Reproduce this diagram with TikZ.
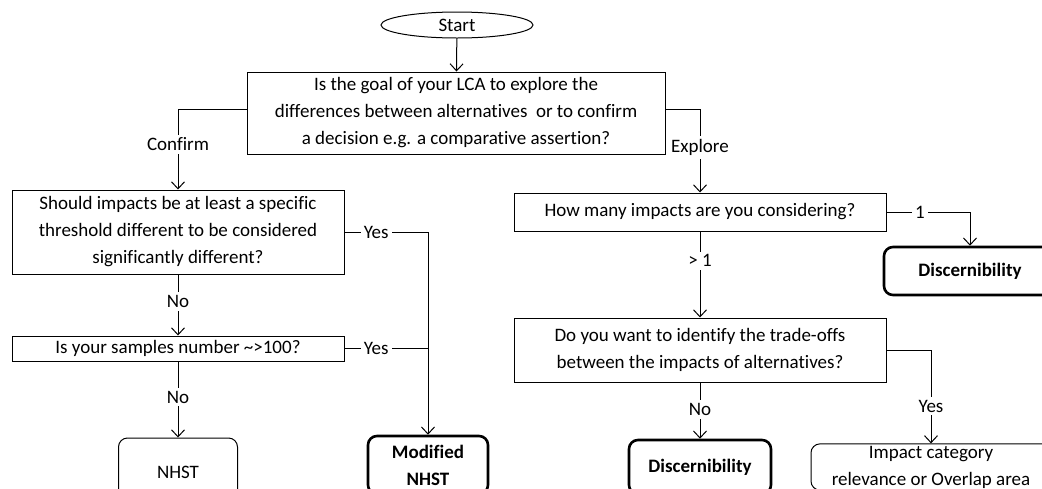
\documentclass[tikz,border=0pt]{standalone}
\usepackage{fontspec}
\setmainfont{Carlito}[Ligatures=NoCommon]
\usetikzlibrary{arrows.meta,shapes.geometric}
\tikzset{>={Straight Barb[length=7pt,width=13pt]}}
\newcommand\chartfont{\fontsize{19}{27}\selectfont}
\tikzset{
  qbox/.style={draw, line width=1pt, rectangle, align=center, inner sep=2pt},
  resbox/.style={draw, line width=1pt, rounded corners=9pt, align=center, inner sep=2pt},
  resboldbox/.style={draw, line width=2.6pt, rounded corners=9pt, align=center, inner sep=2pt, font=\chartfont\bfseries},
  lbl/.style={fill=white, inner sep=3pt},
}

\begin{document}
\begin{tikzpicture}[x=1pt, y=-1pt, line width=1pt, font=\chartfont]
  \useasboundingbox (0,0) rectangle (1042,488);
  \clip (0,0) rectangle (1042,488);

  % start + goal question
  \node[draw, ellipse, minimum width=152pt, minimum height=26pt, inner sep=0pt] (start) at (457,25) {Start};
  \node[qbox, minimum width=418pt, minimum height=82pt] (goal) at (456,113)
    {Is the goal of your LCA to explore the\\differences between alternatives\ \ or to confirm\\a decision e.g. a comparative assertion?};

  % confirm branch
  \node[qbox, minimum width=332pt, minimum height=84pt] (thresh) at (178,232)
    {Should impacts be at least a specific\\threshold different to be considered\\significantly different?};
  \node[qbox, minimum width=332pt, minimum height=25pt] (samples) at (178,348.5)
    {Is your samples number \textasciitilde{}>100?};
  \node[resbox, minimum width=119pt, minimum height=68pt] (nhst) at (178,472) {NHST};
  \node[resboldbox, minimum width=120pt, minimum height=58pt] (modnhst) at (428,465) {Modified\\NHST};

  % explore branch
  \node[qbox, minimum width=372pt, minimum height=38pt] (howmany) at (700,212)
    {How many impacts are you considering?};
  \node[resboldbox, minimum width=172pt, minimum height=48pt] (discone) at (970,271) {Discernibility};
  \node[qbox, minimum width=372pt, minimum height=64pt] (tradeoff) at (700,350)
    {Do you want to identify the trade-offs\\between the impacts of alternatives?};
  \node[resboldbox, minimum width=142pt, minimum height=54pt] (disctwo) at (700,467) {Discernibility};
  \node[resbox, minimum width=240pt, minimum height=46pt] (overlap) at (931,467)
    {Impact category\\relevance or Overlap area};

  \draw[->] (start) -- (goal);
  \draw[->] ([yshift=4pt]goal.west) -| node[lbl, pos=0.72] {Confirm} (thresh.north);
  \draw[->] ([yshift=4pt]goal.east) -| node[lbl, pos=0.73] {Explore} (howmany.north);

  \draw[->] (thresh) -- node[lbl, pos=0.44] {No} (samples);
  \draw[->] (samples) -- node[lbl, pos=0.47] {No} (nhst);
  \draw[->] (thresh.east) -| node[lbl, pos=0.19] {Yes} (modnhst.north);
  \draw (samples.east) -- node[lbl, pos=0.38] {Yes} (samples.east -| modnhst.north);

  \draw[->] (howmany.east) -| node[lbl, pos=0.2] {1} (discone.north);
  \draw[->] (howmany) -- node[lbl, pos=0.34] {> 1} (tradeoff);
  \draw[->] (tradeoff) -- node[lbl, pos=0.48] {No} (disctwo);
  \draw[->] (tradeoff.east) -| node[lbl, pos=0.8] {Yes} (overlap.north);

\end{tikzpicture}
\end{document}
